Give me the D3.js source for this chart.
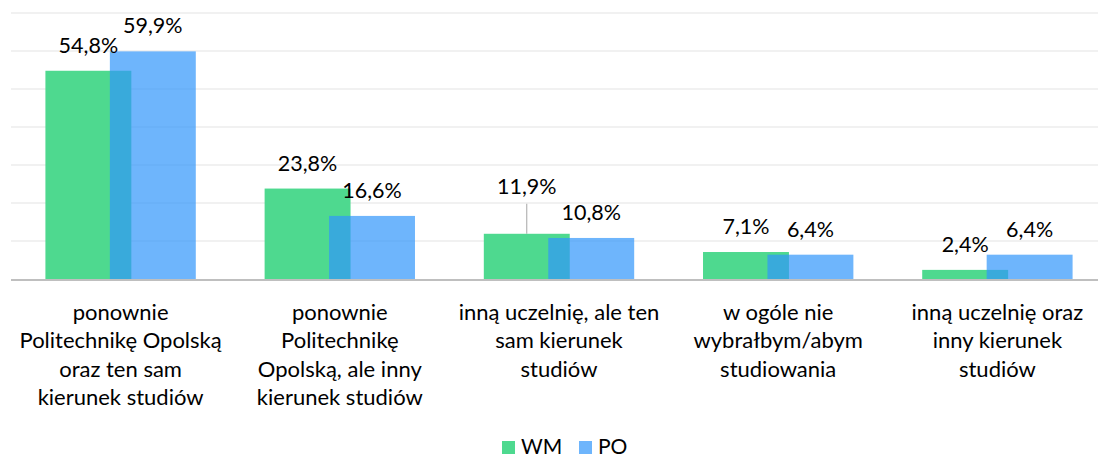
<!DOCTYPE html>
<html>
<head>
<meta charset="utf-8">
<title>Wybór uczelni</title>
<script src="https://d3js.org/d3.v7.min.js"></script>
<style>
  body { margin: 0; background: #fff; }
  text { font-family: Lato, "Open Sans", sans-serif; fill: #000; }
  .val { font-size: 21.5px; }
  .cat { font-size: 22px; }
  .leg { font-size: 21px; }
</style>
</head>
<body>
<script>
// categories (line breaks as in the original chart)
var categories = [
  "ponownie\nPolitechnikę Opolską\noraz ten sam\nkierunek studiów",
  "ponownie\nPolitechnikę\nOpolską, ale inny\nkierunek studiów",
  "inną uczelnię, ale ten\nsam kierunek\nstudiów",
  "w ogóle nie\nwybrałbym/abym\nstudiowania",
  "inną uczelnię oraz\ninny kierunek\nstudiów"
];
var seriesNames = ["WM", "PO"];
var wmValues = [54.8, 23.8, 11.9, 7.1, 2.4];
var poValues = [59.9, 16.6, 10.8, 6.4, 6.4];
var gridTicks = [0, 10, 20, 30, 40, 50, 60, 70];

var width = 1098, height = 459;
var green = "#4ed98f", blue = "rgb(49,149,251)", blueAlpha = 0.7;

var svg = d3.select("body").append("svg")
  .attr("width", width).attr("height", height);

var x = d3.scaleBand().domain(d3.range(categories.length))
  .range([11, 1107]).paddingInner(0.314).paddingOuter(0.157);
var y = d3.scaleLinear().domain([0, 70]).range([279, 13]);

var overlap = 0.25;
var bw = x.bandwidth() / (2 - overlap);

// gridlines
svg.append("g").selectAll("line").data(gridTicks.slice(1)).enter().append("line")
  .attr("x1", 11).attr("x2", width)
  .attr("y1", function(d){ return y(d); }).attr("y2", function(d){ return y(d); })
  .attr("stroke", "#ececec").attr("stroke-width", 1.5);

var series = [
  { name: seriesNames[0], values: wmValues, fill: green, op: 1, off: 0 },
  { name: seriesNames[1], values: poValues, fill: blue, op: blueAlpha, off: bw * (1 - overlap) }
];

series.forEach(function(s){
  svg.append("g").selectAll("rect").data(s.values).enter().append("rect")
    .attr("x", function(d, i){ return x(i) + s.off; })
    .attr("y", function(d){ return y(d); })
    .attr("width", bw)
    .attr("height", function(d){ return y(0) - y(d); })
    .attr("fill", s.fill).attr("fill-opacity", s.op);
});

// axis line
svg.append("line").attr("x1", 11).attr("x2", width)
  .attr("y1", y(0) + 1).attr("y2", y(0) + 1)
  .attr("stroke", "#bfbfbf").attr("stroke-width", 2);

// value labels (third WM label moved up with a leader line, as in the original)
var lift = function(si, i){ return (si === 0 && i === 2) ? 40 : 18; };
series.forEach(function(s, si){
  var g = svg.append("g");
  s.values.forEach(function(v, i){
    var cx = x(i) + s.off + bw / 2;
    var by = y(v) - lift(si, i);
    if (lift(si, i) > 18) {
      g.append("line").attr("x1", cx).attr("x2", cx)
        .attr("y1", by + 10).attr("y2", y(v))
        .attr("stroke", "#a6a6a6").attr("stroke-width", 1);
    }
    g.append("text").attr("class", "val")
      .attr("x", cx).attr("y", by)
      .attr("text-anchor", "middle")
      .text(String(v.toFixed(1)).replace(".", ",") + "%");
  });
});

// category labels
var catG = svg.append("g");
categories.forEach(function(c, i){
  var t = catG.append("text").attr("class", "cat")
    .attr("text-anchor", "middle")
    .attr("x", x(i) + x.bandwidth() / 2).attr("y", 320);
  c.split("\n").forEach(function(line, k){
    t.append("tspan").attr("x", x(i) + x.bandwidth() / 2)
      .attr("dy", k === 0 ? 0 : 28.3).text(line);
  });
});

// legend
var legend = svg.append("g").attr("transform", "translate(502,441)");
var legX = [0, 77];
series.forEach(function(s, si){
  var lg = legend.append("g").attr("transform", "translate(" + legX[si] + ",0)");
  lg.append("rect").attr("width", 13).attr("height", 13)
    .attr("fill", s.fill).attr("fill-opacity", s.op);
  lg.append("text").attr("class", "leg").attr("x", 19).attr("y", 13).text(s.name);
});
</script>
</body>
</html>
